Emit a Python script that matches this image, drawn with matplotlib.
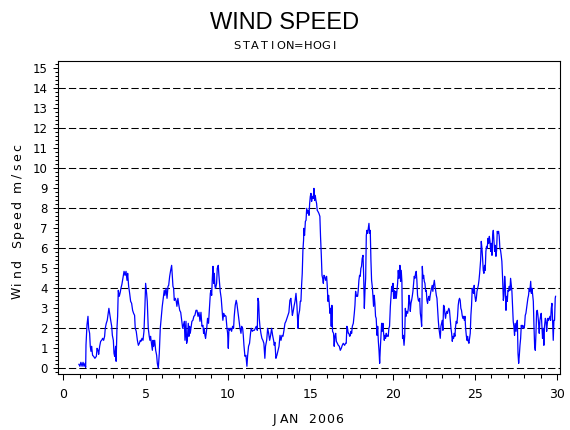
import numpy as np
import matplotlib
matplotlib.use("Agg")
import matplotlib.pyplot as plt
from matplotlib.ticker import MultipleLocator

# ---- data (day of January 2006, wind speed m/s) ----
days_a = [0.95,1.01,1.07,1.14,1.20,1.26,1.32,1.36,
          1.38,1.44,1.50,1.54,1.60,1.64,1.68,1.72,
          1.78,1.84,1.92,2.01,2.05,2.11,2.15,2.21,
          2.27,2.33,2.39,2.45,2.51,2.55,2.61,2.67,
          2.73,2.77,2.84,2.88,2.94,2.98,3.04,3.08,
          3.12,3.18,3.21,3.26,3.30,3.34,3.40,3.46,
          3.50,3.56,3.62,3.69,3.75,3.81,3.87,3.91,
          3.97,4.03,4.09,4.15,4.21,4.27,4.33,4.37,
          4.43,4.50,4.56,4.62,4.68,4.72,4.78,4.84,
          4.90,4.96,5.00,5.06,5.10,5.16,5.22,5.26,
          5.30,5.37,5.41,5.45,5.49,5.55,5.61,5.67,
          5.71,5.77,5.83,5.89,5.93,5.97,6.01,6.07,
          6.13,6.17,6.24,6.30,6.36,6.40,6.46,6.52,
          6.58,6.62,6.66,6.70,6.74,6.80,6.86,6.90,
          6.96,7.00,7.07,7.13,7.19,7.25]
speed_a = [0.2,0.1,0.3,0.1,0.3,0.1,0.25,0.05,
           1.17,2.17,2.6,2.0,1.75,1.1,0.85,1.1,
           0.65,0.6,0.5,0.6,1.0,0.9,0.7,1.1,
           1.35,1.4,1.5,1.4,1.6,2.0,2.25,2.4,
           2.75,3.0,2.6,2.4,2.1,1.65,1.4,0.75,
           0.6,1.1,0.35,2.0,2.6,3.9,3.6,3.8,
           4.0,4.2,4.5,4.85,4.65,4.85,4.4,4.75,
           4.1,3.75,3.35,3.25,2.9,2.75,2.65,2.0,
           1.85,1.4,1.15,1.25,1.4,1.35,1.5,1.4,
           1.85,3.15,4.25,3.75,3.35,2.0,1.6,1.4,
           1.6,1.15,0.9,1.4,1.1,1.4,0.9,0.65,
           0.25,0.0,0.75,2.0,2.35,2.75,3.1,3.5,
           3.9,3.65,4.0,3.5,4.1,4.15,4.6,4.9,
           5.15,4.6,4.1,4.0,3.4,3.5,3.35,3.1,
           3.5,3.25,2.9,2.8,2.4,2.0]

days_b = [7.35,7.39,7.45,7.49,7.53,7.59,7.63,7.67,
          7.71,7.75,7.81,7.87,7.93,7.99,8.06,8.12,
          8.18,8.24,8.30,8.36,8.42,8.48,8.52,8.56,
          8.60,8.64,8.70,8.76,8.82,8.89,8.93,8.97,
          9.01,9.05,9.09,9.13,9.17,9.21,9.25,9.31,
          9.35,9.41,9.45,9.49,9.53,9.59,9.65,9.69,
          9.74,9.78,9.82,9.88,9.94,9.98,10.02,10.06,
          10.10,10.16,10.22,10.28,10.34,10.38,10.44,10.50,
          10.54,10.61,10.67,10.73,10.79,10.83,10.89,10.93,
          10.97,11.03,11.09,11.15,11.19,11.25,11.31,11.37,
          11.41,11.48,11.54,11.60,11.66,11.72,11.78,11.82,
          11.86,11.90,11.94,12.00,12.06,12.12,12.18,12.24,
          12.28,12.35,12.41,12.47,12.53,12.59,12.65,12.71,
          12.77,12.81,12.85,12.91,12.97,13.03,13.10,13.16,
          13.22,13.28,13.34,13.40,13.46,13.52,13.58,13.64,
          13.70,13.76,13.82,13.87,13.91,13.95,14.01,14.07,
          14.13,14.19,14.25,14.29,14.35,14.39,14.43,14.47,
          14.51,14.55,14.59]
speed_b = [2.35,1.4,2.35,1.25,1.4,2.25,1.6,2.1,
           1.75,2.0,2.35,2.4,2.6,2.65,2.9,2.9,
           2.6,2.8,2.35,2.8,2.1,2.15,1.75,2.0,
           1.65,1.5,1.9,2.5,2.25,3.15,3.75,3.9,
           3.65,4.5,5.1,4.25,4.75,4.1,4.0,4.25,
           5.0,5.15,4.65,4.25,3.85,3.5,2.8,2.4,
           2.75,2.6,2.65,2.6,2.0,1.75,1.0,2.0,
           1.9,2.0,1.85,2.1,2.0,2.6,3.15,3.4,
           3.25,2.8,2.4,2.0,1.75,2.1,2.0,1.65,
           1.15,0.6,0.65,0.1,0.6,1.1,1.25,1.75,
           2.0,1.85,1.9,1.9,2.0,2.1,1.9,3.5,
           3.35,2.5,2.1,1.75,1.5,1.4,1.25,0.5,
           1.1,1.4,2.0,1.75,1.4,1.65,2.0,1.65,
           1.4,1.15,1.3,0.5,0.65,0.85,1.1,1.65,
           1.4,1.65,1.6,1.9,2.25,2.35,2.5,2.65,
           2.8,3.4,3.5,3.0,2.65,2.8,3.1,3.35,
           3.75,3.1,2.0,2.65,2.9,3.35,3.35,4.15,
           4.75,5.9,6.4]

days_c = [14.61,14.65,14.70,14.74,14.78,14.84,14.88,14.92,
          14.96,15.00,15.04,15.08,15.12,15.18,15.22,15.26,
          15.30,15.34,15.38,15.42,15.46,15.52,15.58,15.62,
          15.67,15.71,15.75,15.79,15.83,15.87,15.93,15.99,
          16.03,16.07,16.11,16.15,16.19,16.23,16.27,16.31,
          16.35,16.41,16.45,16.49,16.54,16.58,16.64,16.70,
          16.76,16.82,16.88,16.94,17.00,17.08,17.14,17.18,
          17.22,17.26,17.30,17.34,17.39,17.43,17.47,17.51,
          17.55,17.61,17.67,17.71,17.75,17.79,17.83,17.87,
          17.91,17.95,17.99,18.03,18.07,18.11,18.15,18.20,
          18.24,18.28,18.32,18.36,18.40,18.44,18.48,18.52,
          18.56,18.60,18.64,18.68,18.72,18.76,18.80,18.84,
          18.88,18.92,18.96,19.00,19.05,19.09,19.13,19.17,
          19.21,19.25,19.29,19.33,19.37,19.41,19.45,19.49,
          19.53,19.57,19.61,19.65,19.69,19.73,19.77,19.81,
          19.86,19.90,19.94,19.98,20.02,20.06,20.10,20.14,
          20.18,20.22,20.26,20.30,20.34,20.38,20.42]
speed_c = [7.0,6.65,7.35,7.4,8.0,7.75,7.9,7.65,
           8.25,8.6,8.75,8.35,8.6,8.5,9.0,8.4,
           8.65,8.4,8.25,7.9,7.85,7.75,7.6,6.6,
           5.6,4.65,4.5,4.25,4.65,4.6,4.4,4.6,
           4.1,3.35,3.65,3.25,2.75,3.0,2.1,3.15,
           1.85,1.75,1.1,1.6,1.75,1.35,1.25,1.15,
           1.1,0.9,1.0,1.15,1.25,1.15,1.25,1.25,
           2.1,2.0,1.75,1.75,1.6,1.65,1.85,1.75,
           2.1,2.25,2.75,3.15,3.85,3.6,3.65,3.6,
           3.9,4.4,4.65,4.6,5.0,5.1,5.5,5.65,
           4.6,3.0,3.9,4.5,6.65,6.9,6.75,7.0,
           7.25,6.75,6.9,5.4,4.4,4.1,3.65,3.1,
           3.65,3.25,2.6,2.5,1.65,2.1,1.35,0.9,
           0.25,1.0,1.6,2.25,1.85,2.25,1.75,1.4,
           1.65,1.5,1.75,1.6,1.65,1.6,2.0,2.1,
           3.1,3.6,4.1,3.85,4.25,3.5,3.9,3.5,
           3.85,3.5,3.9,4.25,4.9,4.5,4.65]

days_d = [20.44,20.48,20.52,20.56,20.60,20.64,20.69,20.73,
          20.77,20.81,20.85,20.91,20.95,20.99,21.03,21.07,
          21.11,21.15,21.19,21.23,21.27,21.31,21.35,21.39,
          21.43,21.47,21.51,21.56,21.60,21.64,21.68,21.72,
          21.76,21.78,21.80,21.84,21.88,21.92,21.96,22.00,
          22.04,22.08,22.12,22.16,22.20,22.24,22.28,22.32,
          22.36,22.40,22.44,22.48,22.53,22.57,22.61,22.65,
          22.69,22.73,22.77,22.81,22.85,22.89,22.93,22.97,
          23.01,23.05,23.09,23.13,23.17,23.21,23.25,23.29,
          23.33,23.37,23.41,23.45,23.50,23.54,23.58,23.62,
          23.66,23.70,23.74,23.78,23.82,23.86,23.90,23.94,
          23.98,24.02,24.06,24.10,24.14,24.18,24.22,24.26,
          24.31,24.35,24.39,24.43,24.47,24.51,24.55,24.59,
          24.63,24.67,24.71,24.75,24.79,24.83,24.87,24.91,
          24.95,24.99,25.04,25.08,25.12,25.16,25.20,25.24,
          25.28]
speed_d = [5.15,4.35,4.9,4.35,1.5,1.65,1.15,1.6,
           3.0,2.6,2.85,2.75,3.0,3.65,3.4,2.85,
           3.25,3.4,3.6,3.85,4.25,4.6,4.5,4.75,
           4.85,4.4,3.65,3.4,3.35,3.5,2.75,2.5,
           2.1,3.25,5.1,4.5,4.65,4.35,4.25,3.85,
           3.9,3.4,3.25,3.5,3.6,3.4,3.65,3.85,
           4.0,4.15,3.85,4.15,4.4,4.1,3.9,3.65,
           3.5,2.9,2.4,2.0,1.75,1.5,2.1,2.25,
           2.4,1.9,3.15,3.1,2.75,2.5,2.75,2.85,
           2.75,2.9,3.0,2.9,2.4,2.0,1.75,1.35,
           1.6,1.5,1.75,1.6,2.1,2.35,2.25,2.6,
           3.15,3.4,3.5,3.4,3.0,2.9,2.65,2.5,
           2.6,2.4,2.6,2.0,1.65,1.4,1.6,1.35,
           1.25,1.5,1.75,2.65,3.15,4.0,3.85,3.75,
           4.15,3.65,3.35,3.5,3.85,4.0,4.15,4.4,
           4.75]

days_e = [25.34,25.38,25.42,25.46,25.50,25.54,25.58,25.62,
          25.66,25.70,25.74,25.79,25.83,25.87,25.91,25.95,
          25.99,26.03,26.07,26.11,26.15,26.19,26.23,26.27,
          26.31,26.35,26.39,26.43,26.47,26.51,26.55,26.59,
          26.63,26.68,26.72,26.76,26.80,26.84,26.88,26.92,
          26.96,27.00,27.04,27.08,27.12,27.16,27.20,27.24,
          27.28,27.32,27.36,27.40,27.44,27.49,27.53,27.57,
          27.61,27.65,27.69,27.73,27.77,27.81,27.85,27.89,
          27.93,27.97,28.01,28.05,28.09,28.13,28.17,28.21,
          28.25,28.29,28.33,28.38,28.42,28.46,28.50,28.54,
          28.58,28.62,28.66,28.70,28.74,28.78,28.82,28.86,
          28.90,28.94,28.98,29.02,29.06,29.10,29.14,29.18,
          29.22,29.27,29.31,29.35,29.39,29.43,29.47,29.51,
          29.55,29.59,29.63,29.67,29.71,29.75,29.79,29.83,
          29.87,29.89]
speed_e = [5.4,6.35,6.0,5.5,4.9,4.75,5.15,4.9,
           5.85,6.1,6.0,6.5,6.25,6.6,6.35,5.85,
           6.25,5.65,6.65,6.9,6.4,5.85,6.15,5.6,
           5.9,6.85,6.75,6.85,6.6,6.0,5.9,5.65,
           5.35,4.4,3.4,3.65,4.6,4.15,2.9,3.6,
           3.35,3.9,3.85,4.1,3.9,4.5,4.15,3.85,
           3.15,2.35,2.1,1.65,2.25,1.85,2.25,2.4,
           0.75,0.25,0.65,1.15,1.5,2.15,2.0,2.15,
           2.1,2.0,2.15,2.65,2.75,3.0,3.25,3.5,
           3.65,4.0,3.85,4.35,3.75,4.0,3.65,3.35,
           2.1,1.1,0.9,1.75,2.85,2.9,2.65,2.25,
           1.75,2.4,2.6,2.75,2.1,1.5,2.0,1.15,
           2.1,2.5,2.4,1.85,2.25,2.5,2.4,2.5,
           2.6,2.4,3.0,3.25,2.4,1.4,2.4,2.4,
           3.5,3.6]

grid_levels = [0, 2, 4, 6, 8, 10, 12, 14]
x_ticks = [0, 5, 10, 15, 20, 25, 30]
y_ticks = list(range(0, 16))

title = "WIND SPEED"
subtitle = "STATION=HOGI"
x_label = "JAN 2006"
y_label = "Wind Speed m/sec"

days = np.concatenate([days_a, days_b, days_c, days_d, days_e])
speed = np.concatenate([speed_a, speed_b, speed_c, speed_d, speed_e])

# ---- figure ----
W, H = 570, 430
fig = plt.figure(figsize=(W / 100, H / 100), dpi=100)
fig.patch.set_facecolor("white")
L, R, T, B = 58, 560, 61, 374
ax = fig.add_axes([L / W, 1 - B / H, (R - L) / W, (B - T) / H])

for lv in grid_levels:
    ax.axhline(lv, color="black", lw=0.75, dashes=(7, 3), zorder=1)
ax.plot(days, speed, color="#0000ff", lw=0.9, zorder=2)

ax.set_xlim(-0.32, 30.16)
ax.set_ylim(-0.285, 15.37)
ax.set_xticks(x_ticks)
ax.set_yticks(y_ticks)
ax.xaxis.set_minor_locator(MultipleLocator(1))
ax.yaxis.set_minor_locator(MultipleLocator(0.2))
ax.tick_params(axis="both", which="both", direction="out", top=False,
               right=False, width=0.75, colors="black")
ax.tick_params(axis="y", which="major", length=3.8, pad=3.6, labelsize=8.5)
ax.tick_params(axis="y", which="minor", length=2.2)
ax.tick_params(axis="x", which="major", length=4.3, pad=5.5, labelsize=9)
ax.tick_params(axis="x", which="minor", length=2.8)
for lab in ax.get_xticklabels() + ax.get_yticklabels():
    lab.set_family("DejaVu Sans")
for sp in ax.spines.values():
    sp.set_linewidth(0.8)
    sp.set_color("black")


def spaced_text(s, cx, cy, step, size, vertical=False):
    n = len(s)
    for i, ch in enumerate(s):
        off = (i - (n - 1) / 2) * step
        if vertical:
            x, y, rot = cx, cy - off, 90
        else:
            x, y, rot = cx + off, cy, 0
        fig.text(x / W, 1 - y / H, ch, ha="center", va="baseline",
                 rotation=rot, rotation_mode="anchor", fontsize=size,
                 family="DejaVu Sans", color="black")


fig.text(285 / W, 1 - 29 / H, title, ha="center", va="baseline",
         fontsize=17, family="Liberation Sans", color="black")
spaced_text(subtitle, 285.5, 49, 8.9, 8.2)
spaced_text(x_label, 307, 423, 9.3, 9)
spaced_text(y_label, 21, 220, 9.7, 9, vertical=True)

fig.savefig("out.png", dpi=100, facecolor="white")
